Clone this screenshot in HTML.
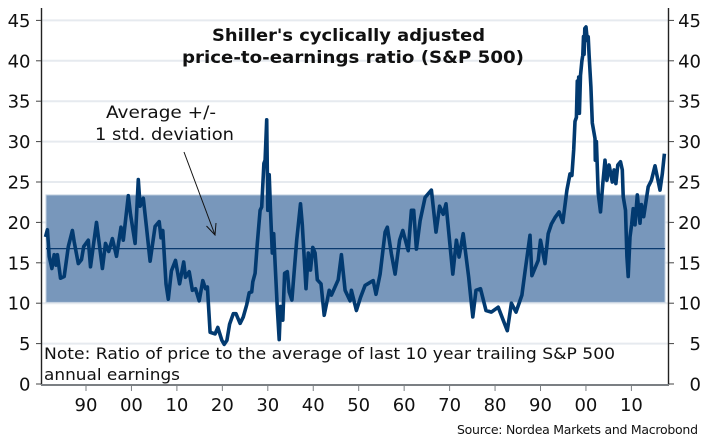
<!DOCTYPE html>
<html>
<head>
<meta charset="utf-8">
<title>Shiller CAPE</title>
<style>
html,body{margin:0;padding:0;background:#fff;}
svg{display:block;}
text{font-family:"DejaVu Sans","Liberation Sans",sans-serif;fill:#111;}
</style>
</head>
<body>
<svg id="chart" width="710" height="448" viewBox="0 0 710 448" xmlns="http://www.w3.org/2000/svg">
  <g id="grid"></g>
  <g id="band"></g>
  <g id="series"></g>
  <g id="axes"></g>
  <text x="212" y="41" font-size="16.500" font-weight="700" textLength="273" lengthAdjust="spacingAndGlyphs">Shiller's cyclically adjusted</text>
  <text x="182" y="63" font-size="16.500" font-weight="700" textLength="342" lengthAdjust="spacingAndGlyphs">price-to-earnings ratio (S&amp;P 500)</text>
  <text x="106" y="118" font-size="17" textLength="110" lengthAdjust="spacingAndGlyphs">Average +/-</text>
  <text x="95" y="140" font-size="17" textLength="139" lengthAdjust="spacingAndGlyphs">1 std. deviation</text>
  <g fill="none" stroke="#111" stroke-width="1">
    <path d="M184 152 L215 235"/>
    <path d="M206.500 226 L215 235 L216 223"/>
  </g>
  <text x="44" y="359" font-size="16" textLength="571" lengthAdjust="spacingAndGlyphs">Note: Ratio of price to the average of last 10 year trailing S&amp;P 500</text>
  <text x="44" y="380" font-size="16" textLength="136" lengthAdjust="spacingAndGlyphs">annual earnings</text>
  <text x="457" y="434" font-size="12.500" textLength="241" lengthAdjust="spacing">Source: Nordea Markets and Macrobond</text>
</svg>
<script>
const yTicks = [0, 5, 10, 15, 20, 25, 30, 35, 40, 45];
const xTickYears = [1890, 1900, 1910, 1920, 1930, 1940, 1950, 1960, 1970, 1980, 1990, 2000, 2010];
const xTickLabels = ["90", "00", "10", "20", "30", "40", "50", "60", "70", "80", "90", "00", "10"];
const bandLow = 10.1;
const bandHigh = 23.4;
const bandMean = 16.75;
const bandStart = 1881.2;
const bandEnd = 2017.4;
const years = [
1881.1,1881.5,1881.9,1882.5,1883,1883.4,1883.7,1884.4,1885.2,1886.1,
1887,1887.4,1888.3,1889,1889.5,1890.5,1891,1892.3,1893.6,1894.3,
1895,1895.8,1896.7,1897.7,1898.2,1899.3,1899.8,1900.8,1901.5,1901.9,
1902.6,1903.3,1904.1,1905.2,1906.1,
1906.5,1906.9,1907.6,1908.1,1908.8,1909.7,1910.6,1911.5,1911.9,1912.7,
1913.4,1914.1,1914.9,1915.7,1916.3,1916.7,1917.3,1918.4,1919.0,1919.9,
1920.4,1921.0,1921.6,1922.4,1923.0,
1923.9,1924.6,1925.35,1925.9,1926.45,1926.7,1927.2,1927.7,1928.3,1928.65,
1929.15,1929.4,1929.75,1930,1930.3,1930.6,1931,1931.3,1931.6,1932.1,
1932.5,1932.8,1933.3,1933.7,1934.3,1934.7,1935.3,1936.35,1937.2,1937.6,
1938.4,1938.9,1939.4,1939.9,1940.4,1940.9,1941.7,1942.4,1943.5,1944,
1945.5,
1946.2,1947.0,1948.1,1948.4,1949.5,1950.4,1951.4,1953.2,1953.8,1954.7,
1955.8,1956.3,1957.2,1958.0,1959.0,1959.7,1960.9,1961.6,1962.1,1962.7,
1963.5,1964.6,1966.0,1967.0,1967.8,1968.6,1969.2,1970.7,1971.5,1972.1,
1973.0,1974.2,1974.6,1975.1,1975.8,1976.8,1978.0,1979.2,1980.7,1981.8,
1982.7,1983.6,1984.6,1985.9,1986.6,1987.7,1988.1,1989.5,1990.0,1991.0,
1991.7,1992.4,1993.2,1994.1,1994.9,1995.8,1996.5,1996.9,
1997.3,1997.6,1997.9,1998.1,1998.25,1998.4,1998.55,1998.8,1999.1,1999.3,
1999.45,1999.6,1999.75,2000.0,2000.3,2000.5,2000.7,2001.1,2001.4,2002.0,
2002.05,2002.3,2002.7,2003.2,2003.7,2004.2,2004.6,2005.1,2005.8,2006.2,
2006.6,2007.0,2007.6,2008.0,2008.2,2008.7,2009.0,2009.3,2009.7,2010.05,
2010.4,2010.8,2011.3,2011.9,2012.2,2012.7,2013.7,2014.4,2015.2,2016.3,
2016.8,2017.25
];
const cape = [
18.2,19.1,15.8,14.3,16,14.7,16,13.1,13.3,17,
19,17.6,14.9,15.4,17,17.8,14.5,20,14.3,17.4,
16.4,18,15.8,19.4,17.8,23.3,21,17.4,25.3,22,
23,19.5,15.2,19.5,20.1,
18.1,19.0,12.4,10.5,14.0,15.3,12.4,15.1,13.2,13.9,
11.6,11.8,10.3,12.8,11.8,12.0,6.4,6.2,7.0,5.4,
4.9,5.4,7.4,8.7,8.7,
7.5,8.3,9.8,11.3,11.4,12.65,13.7,17.4,21.5,21.9,
27.3,27.7,32.7,21.5,25.9,21.5,16.2,18.6,14.9,9.4,
5.5,9.6,7.9,13.7,13.9,11.4,10.4,17.8,22.3,19.7,
11.8,16.2,14.1,16.9,16.2,12.9,12.4,8.5,11.6,11,
12.9,
16.0,11.6,10.3,11.6,9.1,10.7,12.2,12.8,11.1,13.6,
18.8,19.4,16.1,13.6,17.8,19.0,16.5,21.5,21.5,16.7,
20.2,23.1,24.0,18.8,22.0,21.0,22.3,13.6,17.8,15.7,
18.6,13.2,11.0,8.3,11.6,11.8,9.1,8.9,9.5,7.9,
6.6,10.0,8.9,11.0,13.9,18.4,13.4,15.3,17.8,14.9,
18.6,19.8,20.6,21.3,20.0,24.0,26.0,25.8,
29,32.5,33,37.5,33.6,38,33.5,38.2,40,40.7,
43,40.8,44,44.2,42.5,43,40.7,36.8,32.3,30.4,
27.7,30,23.6,21.3,24.8,27.7,25.2,27.1,25.0,26.5,
24.8,27.1,27.5,26.5,23.2,21.5,15.8,13.3,18.2,19.7,
21.7,19.7,23.4,19.9,22.2,20.7,24.4,25.2,27,24,
26,28.5
];

const svgNS = "http://www.w3.org/2000/svg";
function xScale(year) { return 86 + (year - 1890) * 4.545; }
function yScale(value) { return 384 - value * 8.08; }
function make(tag, attrs, parent) {
  const el = document.createElementNS(svgNS, tag);
  for (const k in attrs) el.setAttribute(k, attrs[k]);
  parent.appendChild(el);
  return el;
}
const gridG = document.getElementById('grid');
const bandG = document.getElementById('band');
const seriesG = document.getElementById('series');
const axesG = document.getElementById('axes');

yTicks.forEach(function (v) {
  if (v === 0) return;
  const g = make('line', {x1: 42, x2: 668, y1: yScale(v), y2: yScale(v), stroke: '#e6eaef', 'stroke-width': 2}, gridG);
  
  
});

const bandRect = make('rect', {x: xScale(bandStart), y: yScale(bandHigh), width: xScale(bandEnd) - xScale(bandStart), height: yScale(bandLow) - yScale(bandHigh), fill: '#7897bb', stroke: '#c4d2e0', 'stroke-width': 1}, bandG);



const meanLine = make('line', {x1: xScale(bandStart), x2: xScale(bandEnd), y1: yScale(bandMean), y2: yScale(bandMean), stroke: '#0a3a6e', 'stroke-width': 1.3}, bandG);



const capeD = years.map(function (yr, i) {
  return (i ? 'L' : 'M') + xScale(yr).toFixed(1) + ' ' + yScale(cape[i]).toFixed(1);
}).join(' ');
const capeLine = make('path', {d: capeD, fill: 'none', stroke: '#023a70', 'stroke-width': 3.6, 'stroke-linejoin': 'round'}, seriesG);



const leftAxis = make('line', {x1: 41.5, x2: 41.5, y1: 8, y2: 385, stroke: '#222', 'stroke-width': 1.4}, axesG);


const rightAxis = make('line', {x1: 668.5, x2: 668.5, y1: 8, y2: 385, stroke: '#222', 'stroke-width': 1.4}, axesG);


const bottomAxis = make('line', {x1: 41, x2: 669, y1: 385, y2: 385, stroke: '#7b7f83', 'stroke-width': 2}, axesG);



yTicks.forEach(function (v) {
  const y = yScale(v);
  const t1 = make('line', {x1: 36, x2: 41, y1: y, y2: y, stroke: '#444', 'stroke-width': 1}, axesG);
  
  
  const t2 = make('line', {x1: 669, x2: 674, y1: y, y2: y, stroke: '#444', 'stroke-width': 1}, axesG);
  
  
  const l1 = make('text', {x: 30.5, y: y + 6.5, 'font-size': 18, 'text-anchor': 'end'}, axesG);
  l1.textContent = String(v);
  
  
  const l2 = make('text', {x: 701, y: y + 6.5, 'font-size': 18, 'text-anchor': 'end'}, axesG);
  l2.textContent = String(v);
  
  
});

xTickYears.forEach(function (yr, i) {
  const x = xScale(yr);
  const t = make('line', {x1: x, x2: x, y1: 385, y2: 391, stroke: '#7b7f83', 'stroke-width': 1}, axesG);
  
  
  const l = make('text', {x: x, y: 411, 'font-size': 18, 'text-anchor': 'middle'}, axesG);
  l.textContent = xTickLabels[i];
  
  
});
</script>
</body>
</html>
